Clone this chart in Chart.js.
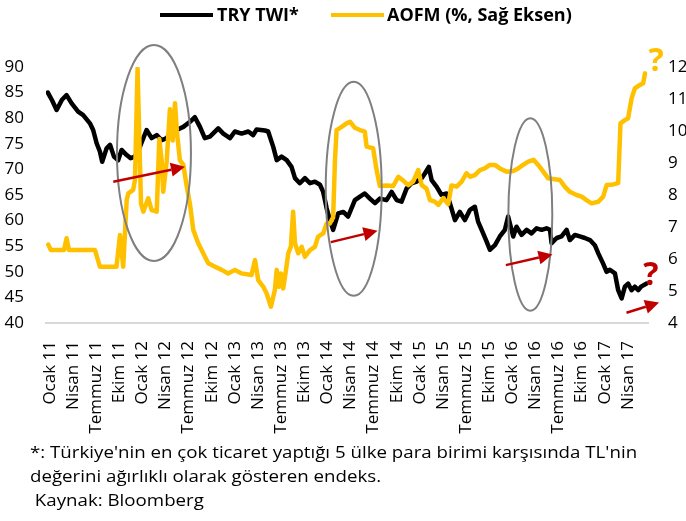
<!DOCTYPE html>
<html>
<head>
<meta charset="utf-8">
<script src="https://cdn.jsdelivr.net/npm/chart.js@4.4.1/dist/chart.umd.min.js"></script>
<style>
  body { margin: 0; background: #fff; }
  #wrap { position: relative; width: 686px; height: 521px; overflow: hidden; font-family: 'Open Sans', sans-serif; color: #000; }
  #chart { position: absolute; left: 0; top: 0; }
  .swatch { position: absolute; top: 13px; width: 53px; height: 4px; }
  .legtext { position: absolute; top: 2px; font-size: 18px; font-weight: bold; line-height: 24px; white-space: nowrap; }
  .note { position: absolute; left: 30px; top: 440px; font-size: 17px; line-height: 24px; white-space: nowrap;
          transform: scaleX(1.1); transform-origin: left top; }
</style>
</head>
<body>
<div id="wrap">
  <canvas id="chart" width="686" height="445"></canvas>
  <div class="swatch" style="left:160px;background:#000"></div>
  <div class="legtext" style="left:217px">TRY TWI*</div>
  <div class="swatch" style="left:331px;background:#FFC000"></div>
  <div class="legtext" style="left:387px">AOFM (%, Sağ Eksen)</div>
  <div class="note">*: Türkiye'nin en çok ticaret yaptığı 5 ülke para birimi karşısında TL'nin<br>değerini ağırlıklı olarak gösteren endeks.<br>&nbsp;Kaynak: Bloomberg</div>
</div>
<script>
// x axis: quarters since Ocak 11 (0 = Ocak 11, 25 = Nisan 17)
const quarterLabels = ['Ocak 11', 'Nisan 11', 'Temmuz 11', 'Ekim 11', 'Ocak 12', 'Nisan 12', 'Temmuz 12', 'Ekim 12',
    'Ocak 13', 'Nisan 13', 'Temmuz 13', 'Ekim 13', 'Ocak 14', 'Nisan 14', 'Temmuz 14', 'Ekim 14',
    'Ocak 15', 'Nisan 15', 'Temmuz 15', 'Ekim 15', 'Ocak 16', 'Nisan 16', 'Temmuz 16', 'Ekim 16',
    'Ocak 17', 'Nisan 17'];

// TRY TWI (left axis)
const twiX = [-0.09, 0.09, 0.29, 0.52, 0.72, 0.94, 1.22, 1.44, 1.73, 1.87,
    2.02, 2.16, 2.26, 2.45, 2.60, 2.77, 2.95, 3.10, 3.32, 3.49,
    3.68, 3.89, 4.18, 4.40, 4.62, 4.83, 5.05, 5.26, 5.48, 5.77,
    6.06, 6.27, 6.49, 6.70, 6.92, 7.28, 7.50, 7.79, 8.00, 8.29,
    8.58, 8.79, 8.94, 9.30, 9.44, 9.66, 9.81, 10.02, 10.24, 10.45,
    10.60, 10.81, 11.03, 11.25, 11.46, 11.68, 11.82, 11.97, 12.11, 12.25,
    12.47, 12.69, 12.90, 13.19, 13.41, 13.62, 13.84, 14.06, 14.27, 14.56,
    14.78, 15.00, 15.21, 15.43, 15.64, 15.86, 16.08, 16.22, 16.39, 16.51,
    16.73, 16.94, 17.16, 17.30, 17.52, 17.73, 17.95, 18.17, 18.38, 18.52,
    18.74, 18.89, 19.03, 19.25, 19.46, 19.68, 19.82, 20.04, 20.18, 20.40,
    20.62, 20.83, 21.05, 21.27, 21.48, 21.63, 21.70, 21.92, 22.13, 22.35,
    22.49, 22.71, 22.92, 23.14, 23.36, 23.57, 23.72, 23.93, 24.08, 24.22,
    24.44, 24.58, 24.73, 24.87, 25.01, 25.16, 25.30, 25.45, 25.57, 25.81];
const twiValues = [85.0, 83.5, 81.6, 83.6, 84.5, 82.9, 81.3, 80.6, 79.0, 77.7,
    75.1, 73.5, 71.5, 74.1, 74.8, 72.5, 71.8, 73.8, 72.8, 72.2,
    72.5, 74.4, 77.7, 76.1, 76.7, 75.7, 76.1, 77.4, 77.7, 78.3,
    79.3, 80.2, 78.3, 76.1, 76.4, 78.0, 77.0, 76.1, 77.4, 77.0,
    77.4, 76.7, 77.8, 77.6, 77.4, 74.4, 71.8, 72.5, 71.8, 70.5,
    68.3, 67.3, 68.3, 67.3, 67.6, 67.0, 65.6, 62.4, 60.1, 58.2,
    61.4, 61.7, 60.8, 64.0, 64.7, 65.3, 64.3, 63.4, 64.3, 64.0,
    65.6, 64.0, 63.7, 66.3, 67.3, 67.6, 68.3, 69.2, 70.5, 67.9,
    66.6, 65.0, 65.3, 63.4, 60.1, 61.7, 60.1, 62.1, 62.7, 59.8,
    57.5, 55.9, 54.3, 55.2, 56.9, 58.2, 60.8, 56.9, 58.8, 57.2,
    58.2, 57.5, 58.5, 58.2, 58.5, 58.2, 55.6, 56.6, 56.9, 58.2,
    56.2, 57.2, 56.9, 56.6, 56.2, 55.2, 53.6, 51.6, 50.0, 50.4,
    49.7, 46.4, 44.8, 47.1, 47.7, 46.4, 47.1, 46.4, 47.1, 47.7];

// AOFM, % (right axis)
const aofmX = [-0.07, 0.04, 0.61, 0.72, 0.82, 1.95, 2.16, 2.88, 3.03, 3.17,
    3.32, 3.39, 3.60, 3.68, 3.79, 3.94, 4.04, 4.25, 4.40, 4.62,
    4.73, 4.83, 4.90, 5.05, 5.19, 5.31, 5.41, 5.49, 5.62, 5.77,
    5.91, 6.06, 6.20, 6.41, 6.63, 6.85, 7.14, 7.43, 7.71, 8.00,
    8.29, 8.72, 8.87, 9.01, 9.23, 9.37, 9.56, 9.73, 9.81, 9.91,
    9.99, 10.09, 10.19, 10.31, 10.42, 10.52, 10.60, 10.74, 10.89, 11.03,
    11.25, 11.46, 11.60, 11.82, 11.97, 12.11, 12.25, 12.33, 12.40, 12.62,
    12.83, 12.98, 13.19, 13.41, 13.62, 13.70, 13.98, 14.13, 14.27, 14.56,
    14.85, 15.07, 15.28, 15.50, 15.71, 15.93, 16.08, 16.29, 16.44, 16.65,
    16.80, 17.01, 17.23, 17.37, 17.59, 17.81, 18.02, 18.17, 18.38, 18.60,
    18.81, 19.03, 19.25, 19.46, 19.75, 20.04, 20.25, 20.47, 20.69, 20.92,
    21.12, 21.34, 21.55, 21.77, 22.06, 22.27, 22.49, 22.78, 23.00, 23.21,
    23.43, 23.72, 23.93, 24.08, 24.36, 24.58, 24.68, 24.87, 25.01, 25.16,
    25.30, 25.52, 25.66, 25.74];
const aofmValues = [6.45, 6.28, 6.28, 6.65, 6.28, 6.28, 5.76, 5.76, 6.75, 5.76,
    7.84, 8.05, 8.16, 8.47, 11.95, 7.74, 7.48, 7.9, 7.53, 7.48,
    9.75, 9.1, 8.1, 9.04, 10.68, 9.7, 10.87, 10.0, 9.09, 8.94,
    8.3, 7.7, 6.91, 6.5, 6.18, 5.87, 5.76, 5.66, 5.55, 5.66,
    5.55, 5.5, 5.97, 5.34, 5.13, 4.93, 4.51, 5.03, 5.66, 5.13,
    5.55, 5.08, 5.55, 6.18, 6.38, 7.48, 6.49, 6.18, 6.38, 6.07,
    6.28, 6.38, 6.7, 6.8, 7.11, 7.11, 7.3, 9.09, 10.03, 10.13,
    10.24, 10.29, 10.1, 10.03, 9.98, 9.51, 9.46, 8.78, 8.28, 8.3,
    8.28, 8.57, 8.45, 8.31, 8.42, 8.78, 8.31, 8.2, 7.84, 7.79,
    7.69, 7.9, 7.72, 8.3, 8.26, 8.42, 8.68, 8.57, 8.62, 8.78,
    8.83, 8.94, 8.94, 8.83, 8.73, 8.75, 8.83, 8.94, 9.04, 9.1,
    8.94, 8.73, 8.52, 8.5, 8.47, 8.26, 8.1, 8.0, 7.95, 7.84,
    7.74, 7.79, 7.95, 8.31, 8.33, 8.37, 10.24, 10.34, 10.4, 11.02,
    11.33, 11.44, 11.49, 11.8];

// annotations, in data units (quarter index, left-axis value)
const ellipses = [
    { q: 4.50, v: 73.2, rq: 1.60, rv: 21.1 },
    { q: 13.14, v: 66.2, rq: 1.21, rv: 20.9 },
    { q: 20.78, v: 61.2, rq: 0.95, rv: 18.8 }
];
const arrows = [
    { q1: 2.74, v1: 67.6, q2: 5.84, v2: 70.5 },
    { q1: 12.15, v1: 55.8, q2: 14.17, v2: 58.0 },
    { q1: 19.72, v1: 51.3, q2: 21.74, v2: 53.4 },
    { q1: 24.94, v1: 42.0, q2: 26.35, v2: 44.0 }
];
const marks = [
    { q: 26.22, v: 91.0, color: '#FFC000' },
    { q: 26.0, v: 49.2, color: '#C00000' }
];

const FONT = "'Open Sans', sans-serif";

const annotationPlugin = {
    id: 'annotations',
    afterDatasetsDraw(chart) {
        const { ctx, scales: { x, y } } = chart;
        ctx.save();
        ctx.strokeStyle = '#7F7F7F';
        ctx.lineWidth = 2;
        ellipses.forEach(e => {
            const cx = x.getPixelForValue(e.q);
            const cy = y.getPixelForValue(e.v);
            const rx = x.getPixelForValue(e.q + e.rq) - cx;
            const ry = cy - y.getPixelForValue(e.v + e.rv);
            ctx.beginPath();
            ctx.ellipse(cx, cy, rx, ry, 0, 0, Math.PI * 2);
            ctx.stroke();
        });

        ctx.strokeStyle = '#C00000';
        ctx.fillStyle = '#C00000';
        ctx.lineWidth = 2.5;
        arrows.forEach(a => {
            const x1 = x.getPixelForValue(a.q1), y1 = y.getPixelForValue(a.v1);
            const x2 = x.getPixelForValue(a.q2), y2 = y.getPixelForValue(a.v2);
            const ang = Math.atan2(y2 - y1, x2 - x1);
            const head = 14, half = 7;
            const bx = x2 - head * Math.cos(ang), by = y2 - head * Math.sin(ang);
            ctx.beginPath();
            ctx.moveTo(x1, y1);
            ctx.lineTo(bx, by);
            ctx.stroke();
            ctx.beginPath();
            ctx.moveTo(x2, y2);
            ctx.lineTo(bx + half * Math.sin(ang), by - half * Math.cos(ang));
            ctx.lineTo(bx - half * Math.sin(ang), by + half * Math.cos(ang));
            ctx.closePath();
            ctx.fill();
        });

        ctx.font = "bold 32px " + FONT;
        ctx.textAlign = 'center';
        ctx.textBaseline = 'middle';
        marks.forEach(m => {
            ctx.fillStyle = m.color;
            ctx.fillText('?', x.getPixelForValue(m.q), y.getPixelForValue(m.v));
        });
        ctx.restore();
    }
};

new Chart(document.getElementById('chart'), {
    type: 'line',
    data: {
        datasets: [
            {
                label: 'TRY TWI*',
                data: twiX.map((q, i) => ({ x: q, y: twiValues[i] })),
                borderColor: '#000000',
                backgroundColor: '#000000',
                borderWidth: 4.5,
                pointRadius: 0,
                tension: 0,
                borderJoinStyle: 'round',
                borderCapStyle: 'round',
                yAxisID: 'y',
                order: 2
            },
            {
                label: 'AOFM (%, Sağ Eksen)',
                data: aofmX.map((q, i) => ({ x: q, y: aofmValues[i] })),
                borderColor: '#FFC000',
                backgroundColor: '#FFC000',
                borderWidth: 4.5,
                pointRadius: 0,
                tension: 0,
                borderJoinStyle: 'round',
                borderCapStyle: 'round',
                yAxisID: 'y2',
                order: 1
            }
        ]
    },
    options: {
        responsive: false,
        animation: false,
        devicePixelRatio: 1,
        layout: { padding: { top: 67, bottom: 7, left: 0, right: 0 } },
        plugins: {
            legend: { display: false },
            tooltip: { enabled: false }
        },
        scales: {
            x: {
                type: 'linear',
                min: -0.17,
                max: 25.87,
                afterBuildTicks: scale => { scale.ticks = quarterLabels.map((_, i) => ({ value: i })); },
                afterFit: scale => { scale.height = 115; },
                ticks: {
                    autoSkip: false,
                    minRotation: 90,
                    maxRotation: 90,
                    padding: 10,
                    color: '#000',
                    font: { family: FONT, size: 17 },
                    callback: value => quarterLabels[value]
                },
                grid: { display: false },
                border: { color: '#D9D9D9', width: 2 }
            },
            y: {
                position: 'left',
                min: 40,
                max: 90,
                afterFit: scale => { scale.width = 46; },
                ticks: { stepSize: 5, padding: 14, color: '#000', font: { family: FONT, size: 17 } },
                grid: { display: false },
                border: { display: false }
            },
            y2: {
                position: 'right',
                min: 4,
                max: 12,
                afterFit: scale => { scale.width = 38; },
                ticks: { stepSize: 1, padding: 12, color: '#000', font: { family: FONT, size: 17 } },
                grid: { display: false },
                border: { display: false }
            }
        }
    },
    plugins: [annotationPlugin]
});
</script>
</body>
</html>
